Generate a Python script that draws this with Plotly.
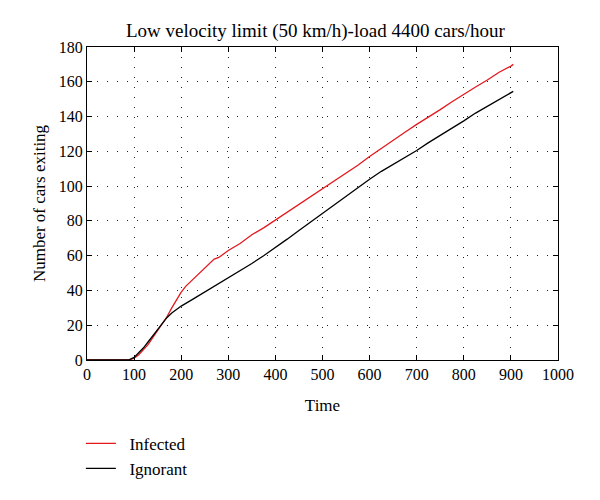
import plotly.graph_objects as go

title_text = "Low velocity limit (50 km/h)-load 4400 cars/hour"

infected_t = [0, 90, 100, 110, 120, 130, 140, 150, 162, 170, 180, 190, 200, 210, 220, 230, 240, 250, 260, 270, 280, 290, 300,
              325, 350, 375, 400, 425, 450, 475, 500, 525, 550, 575, 600, 625, 650, 675, 700, 725, 750, 775, 800, 825, 850, 875, 900, 905]
infected_n = [0, 0, 1, 3, 6, 9, 13, 17, 21.5, 25, 30, 34.5, 39, 42.5, 45, 47.5, 50, 52.5, 55, 58, 59, 61, 63,
              67, 72, 76, 80.5, 84.5, 89, 93.5, 98.5, 103, 107.5, 112, 117, 121.5, 126, 131, 135.5, 139.5, 144, 148.5, 153, 157, 161, 165.5, 169, 170]

ignorant_t = [0, 88, 100, 110, 120, 130, 140, 150, 162, 170, 180, 190, 200, 225, 250, 275, 300, 325, 350, 375, 400,
              425, 450, 475, 500, 525, 550, 575, 600, 625, 650, 675, 700, 725, 750, 775, 800, 825, 850, 875, 900, 905]
ignorant_n = [0, 0, 1.5, 4, 7, 10.5, 14, 17.5, 21.5, 24.5, 27, 29, 31, 35, 39, 43, 47, 51, 55.5, 60, 64.5,
              69.5, 74.5, 79.5, 84.5, 89.5, 94.5, 99.5, 104, 108.5, 112.5, 116.5, 120.5, 125, 129, 133.5, 137.5, 142, 146, 150, 154, 154.5]

x_ticks = list(range(0, 1001, 100))
y_ticks = list(range(0, 181, 20))

font_family = "Liberation Serif, Times New Roman, serif"

fig = go.Figure()
fig.add_trace(go.Scatter(x=infected_t, y=infected_n, mode="lines", name="\u00a0\u00a0Infected",
                         line=dict(color="#e3191e", width=1.3)))
fig.add_trace(go.Scatter(x=ignorant_t, y=ignorant_n, mode="lines", name="\u00a0\u00a0Ignorant",
                         line=dict(color="#000000", width=1.3)))

axis_common = dict(showline=True, linecolor="black", linewidth=1, mirror="ticks",
                   ticks="inside", ticklen=5, tickcolor="black",
                   showgrid=True, gridcolor="#222222", griddash="1px,9px", gridwidth=1,
                   zeroline=False, automargin=False,
                   tickfont=dict(family=font_family, size=16, color="black"))

fig.update_xaxes(range=[0, 1000], tickvals=x_ticks, **axis_common,
                 title=dict(text="Time", font=dict(family=font_family, size=17, color="black"), standoff=16))
fig.update_yaxes(range=[0, 180], tickvals=y_ticks, **axis_common,
                 title=dict(text="Number of cars exiting", font=dict(family=font_family, size=17, color="black"), standoff=8))

fig.update_layout(
    width=600, height=500,
    margin=dict(l=79, r=50, t=39, b=148),
    paper_bgcolor="white", plot_bgcolor="white",
    title=dict(text=title_text, x=0.485, xanchor="center", y=0.956, yanchor="middle",
               xref="paper",
               font=dict(family=font_family, size=19, color="black")),
    legend=dict(x=-0.013, y=-0.21, xanchor="left", yanchor="top",
                font=dict(family=font_family, size=17, color="black"),
                bgcolor="rgba(0,0,0,0)", tracegroupgap=0),
    showlegend=True,
)

fig.write_html("out.html")
